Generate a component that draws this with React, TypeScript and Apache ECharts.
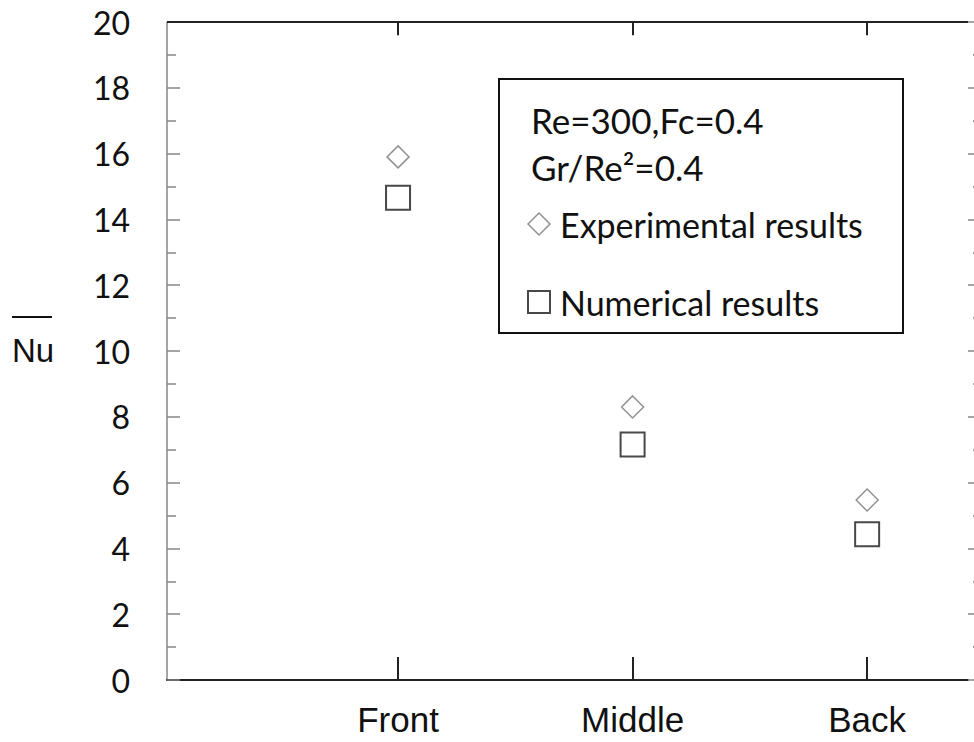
import React, { useEffect, useRef } from "react";
import * as echarts from "echarts";

const categories = ["Front", "Middle", "Back"];
const experimental = [15.9, 8.3, 5.47];
const numerical = [14.66, 7.16, 4.43];
const seriesNames = ["Experimental results", "Numerical results"];
const headerLines = ["Re=300,Fc=0.4", "Gr/Re\u00B2=0.4"];
const yAxisTitle = "Nu";
const yMin = 0;
const yMax = 20;
const yInterval = 2;

const catPositions = categories.map((_, i) => i + 1);

const X_MIN = 0.015;
const X_MAX = 3.43;
const TOP_TICK_UNITS = 0.4;

export default function App() {
  const ref = useRef<HTMLDivElement>(null);
  useEffect(() => {
    if (!ref.current) return;
    const chart = echarts.init(ref.current, null, { renderer: "svg" });
    const frameStyle = { color: "#222", width: 2, type: "solid" as const };
    chart.setOption({
      animation: false,
      backgroundColor: "#fff",
      grid: { left: 167, right: 6, top: 22, bottom: 62, outerBoundsMode: "none", containLabel: false },
      xAxis: {
        type: "value",
        min: X_MIN,
        max: X_MAX,
        splitLine: { show: false },
        position: "bottom",
        axisLine: { show: true, onZero: false, lineStyle: { color: "#222", width: 2 } },
        axisTick: {
          show: true,
          inside: true,
          length: 23,
          customValues: catPositions,
          lineStyle: { color: "#222", width: 2 },
        },
        axisLabel: {
          customValues: catPositions,
          formatter: (v: number) => categories[Math.round(v) - 1] ?? "",
          fontFamily: "Liberation Sans",
          fontSize: 35,
          color: "#111",
          margin: 22,
        },
      },
      yAxis: [
        {
          type: "value",
          min: yMin,
          max: yMax,
          interval: yInterval,
          splitLine: { show: false },
          position: "left",
          axisLine: { show: true, onZero: false, lineStyle: { color: "#868686", width: 1.5 } },
          axisTick: {
            show: true,
            inside: true,
            length: 13,
            lineStyle: { color: "#868686", width: 1.5 },
          },
          minorTick: {
            show: true,
            splitNumber: 2,
            length: 9,
            lineStyle: { color: "#868686", width: 1.5 },
          },
          axisLabel: {
            fontFamily: "Lato",
            fontSize: 32,
            color: "#111",
            margin: 37,
          },
        },
        {
          type: "value",
          min: yMin,
          max: yMax,
          interval: yInterval,
          splitLine: { show: false },
          position: "right",
          offset: 13,
          axisLine: { show: false, onZero: false },
          axisTick: {
            show: true,
            inside: true,
            length: 13,
            lineStyle: { color: "#868686", width: 1.5 },
          },
          minorTick: {
            show: true,
            splitNumber: 2,
            length: 8,
            lineStyle: { color: "#868686", width: 1.5 },
          },
          axisLabel: { show: false },
        },
      ],
      legend: {
        orient: "vertical",
        left: 527,
        top: 207,
        padding: 0,
        itemWidth: 22,
        itemHeight: 22,
        itemGap: 44,
        textStyle: {
          fontFamily: "Lato",
          fontSize: 34,
          lineHeight: 30,
          color: "#111",
          padding: [0, 0, 0, 5],
        },
        data: [
          {
            name: seriesNames[0],
            icon: "diamond",
            itemStyle: { color: "#fff", borderColor: "#777", borderWidth: 1.5 },
          },
          {
            name: seriesNames[1],
            icon: "rect",
            itemStyle: { color: "#fff", borderColor: "#1a1a1a", borderWidth: 2 },
          },
        ],
      },
      graphic: [
        {
          type: "rect",
          shape: { x: 499, y: 79, width: 404, height: 254 },
          style: { fill: "none", stroke: "#111", lineWidth: 2 },
          z: 0,
        },
        {
          type: "text",
          x: 531,
          y: 120,
          style: { text: headerLines[0], font: "35px Lato", fill: "#111", verticalAlign: "middle" },
        },
        {
          type: "text",
          x: 531,
          y: 167,
          style: { text: headerLines[1], font: "35px Lato", fill: "#111", verticalAlign: "middle" },
        },
        {
          type: "text",
          x: 12,
          y: 350,
          style: { text: yAxisTitle, font: "33px 'Liberation Sans'", fill: "#111", verticalAlign: "middle" },
        },
        {
          type: "line",
          shape: { x1: 12, y1: 317, x2: 52, y2: 317 },
          style: { stroke: "#111", lineWidth: 2 },
        },
      ],
      series: [
        {
          name: seriesNames[0],
          type: "scatter",
          symbol: "diamond",
          symbolSize: 22,
          itemStyle: { color: "#fff", borderColor: "#777", borderWidth: 1.5 },
          data: categories.map((_, i) => [catPositions[i], experimental[i]]),
          markLine: {
            silent: true,
            symbol: ["none", "none"],
            label: { show: false },
            lineStyle: frameStyle,
            emphasis: { disabled: true },
            data: [
              { yAxis: yMax },
              ...catPositions.map((x) => [
                { coord: [x, yMax] },
                { coord: [x, yMax - TOP_TICK_UNITS] },
              ]),
            ],
          },
        },
        {
          name: seriesNames[1],
          type: "scatter",
          symbol: "rect",
          symbolSize: 24,
          itemStyle: { color: "#fff", borderColor: "#1a1a1a", borderWidth: 2 },
          data: categories.map((_, i) => [catPositions[i], numerical[i]]),
        },
      ],
    });
    return () => chart.dispose();
  }, []);
  return (
    <div
      ref={ref}
      style={{ position: "fixed", left: 0, top: 0, width: 974, height: 742, background: "#fff" }}
    />
  );
}
